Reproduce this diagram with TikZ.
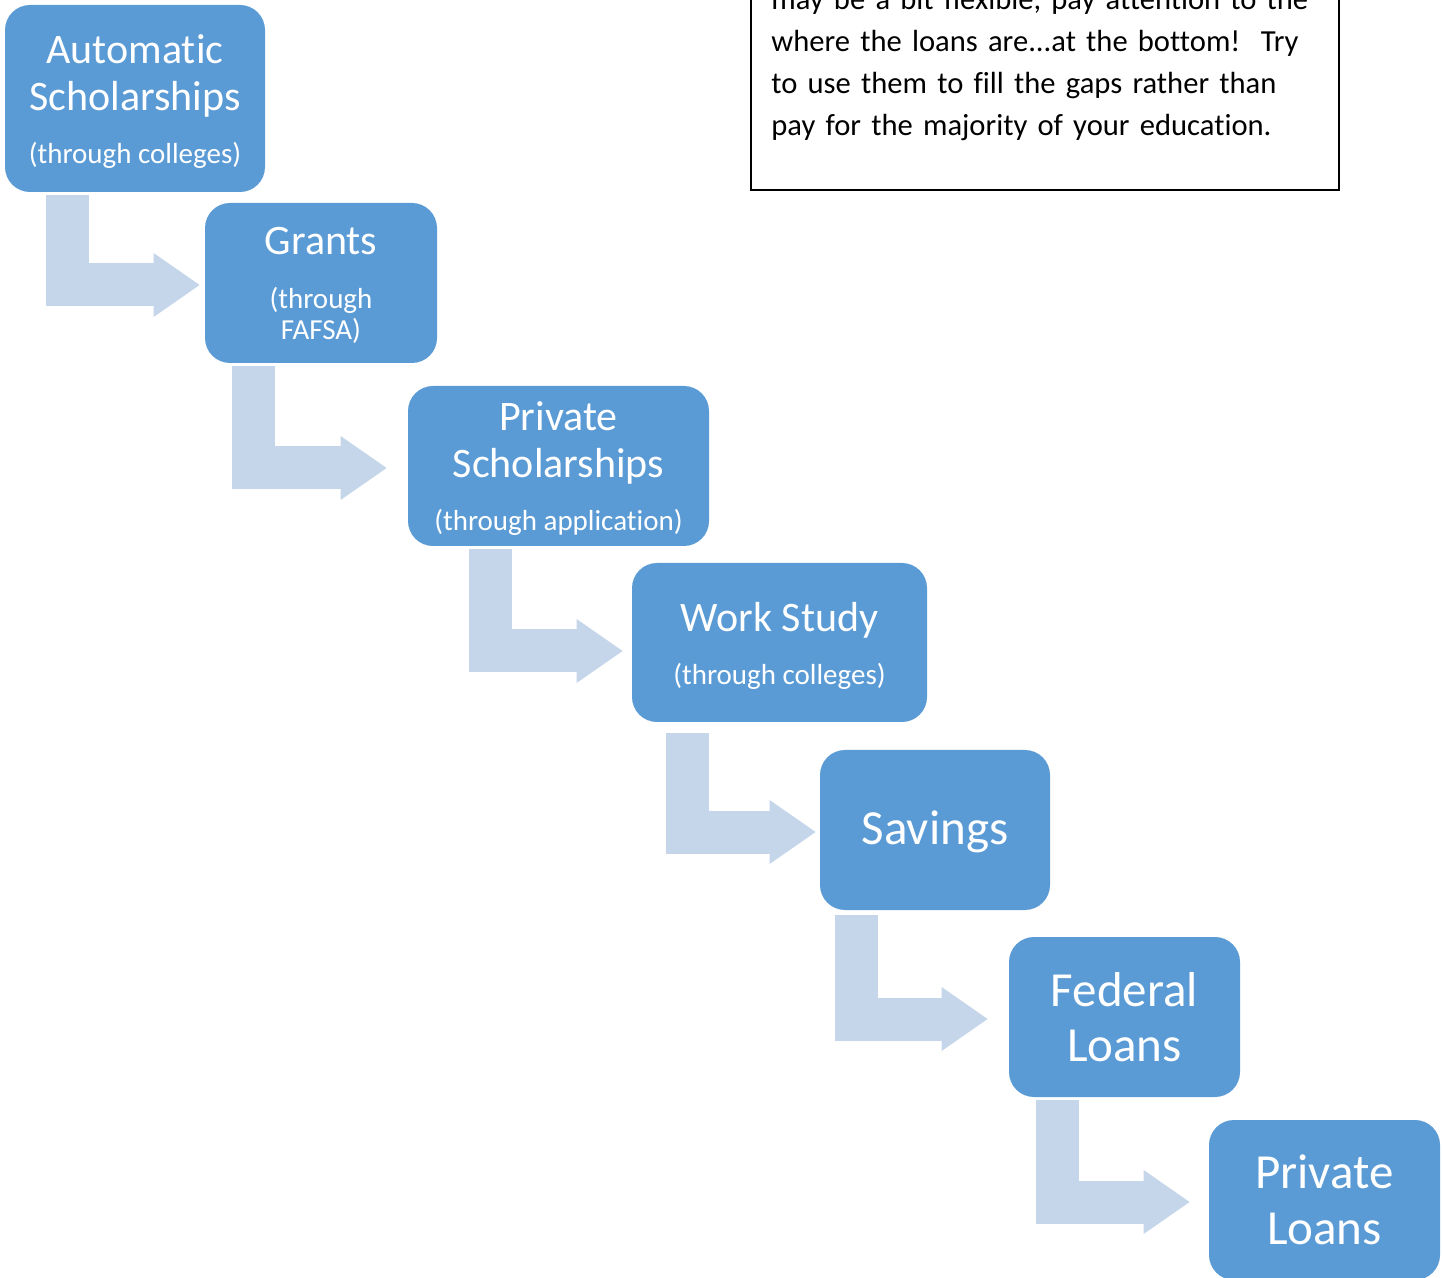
\documentclass[tikz,border=0pt]{standalone}
\usepackage{fontspec}
\setmainfont{Carlito}[Ligatures=NoCommon]
\usetikzlibrary{arrows.meta, calc}

\definecolor{stageblue}{HTML}{5B9BD5}
\definecolor{bendblue}{HTML}{C5D5EA}

\newcommand{\subline}{\fontsize{14.5}{15.5}\selectfont}
\newcommand{\lift}[1]{\rule{0pt}{#1}}

\tikzset{
  stage/.style={fill=stageblue, text=white, rounded corners=12.5pt, inner sep=0pt,
    align=center, font=\fontsize{21}{23.5}\selectfont},
  bigstage/.style={stage, font=\fontsize{24.5}{27.75}\selectfont},
  bendarrow/.style={draw=bendblue, line width=21.5pt,
    -{Triangle[length=23pt, width=32pt, line width=0pt]}},
  notetext/.style={anchor=north west, inner sep=0pt, text width=285pt, align=left,
    font=\fontsize{15.3}{21}\selectfont},
}

\begin{document}
\begin{tikzpicture}[x=0.5pt, y=-0.5pt]
  \clip (0,0) rectangle (1442,1278);

  % the staircase of funding sources
  \node[stage, minimum width=130pt, minimum height=93.5pt] (auto) at (135,98.5)
    {\lift{17pt}Automatic\\Scholarships\\[3pt]{\subline (through colleges)}};
  \node[stage, minimum width=116pt, minimum height=80pt] (grants) at (321,283)
    {\lift{16pt}Grants\\[3.5pt]{\subline (through}\\[-8pt]{\subline FAFSA)}};
  \node[stage, minimum width=150.5pt, minimum height=80pt] (privsch) at (558.5,466)
    {\lift{17pt}Private\\Scholarships\\[3pt]{\subline (through application)}};
  \node[stage, minimum width=147.5pt, minimum height=79.5pt] (work) at (779.5,642.5)
    {\lift{18pt}Work Study\\[3pt]{\subline (through colleges)}};
  \node[bigstage, minimum width=115pt, minimum height=80pt] (savings) at (935,830)
    {\lift{19pt}Savings};
  \node[bigstage, minimum width=115.5pt, minimum height=80pt] (fedloans) at (1124.5,1017)
    {Federal\\Loans};
  \node[bigstage, minimum width=115.5pt, minimum height=80pt] (privloans) at (1324.5,1200)
    {Private\\Loans};

  % bent arrows between the steps
  \draw[bendarrow] ($(auto.south west)+(62.5,3)$) |- ($(grants.west)+(-5,2)$);
  \draw[bendarrow] ($(grants.south west)+(48.5,3)$) |- ($(privsch.west)+(-21,2)$);
  \draw[bendarrow] ($(privsch.south west)+(82.5,3)$) |- ($(work.west)+(-9,8.5)$);
  \draw[bendarrow] ($(work.south west)+(55.5,11)$) |- ($(savings.west)+(-4,2)$);
  \draw[bendarrow] ($(savings.south west)+(36.5,5)$) |- ($(fedloans.west)+(-21,2)$);
  \draw[bendarrow] ($(fedloans.south west)+(48.5,3)$) |- ($(privloans.west)+(-19,2)$);

  % note box, top right
  \draw[line width=0.8pt] (751,-60) rectangle (1339,190);
  \node[notetext] (note) at (771,-20.4)
    {\strut may be a bit flexible, pay attention to the\\
     where the loans are...at the bottom!\ \ Try\\
     to use them to fill the gaps rather than\\
     pay for the majority of your education.};
\end{tikzpicture}
\end{document}
